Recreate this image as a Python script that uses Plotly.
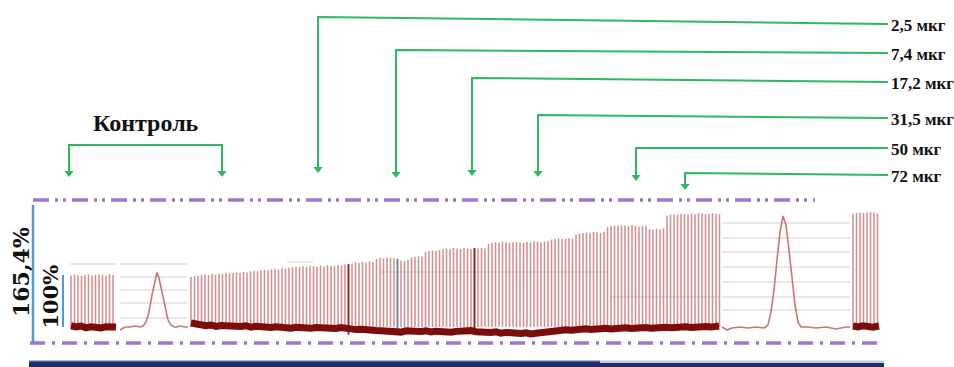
import plotly.graph_objects as go

# ---------------------------------------------------------------------------
# Isometric force recording: twitch amplitudes in % of control
# ---------------------------------------------------------------------------
stim_period = 3.5            # s between stimuli
control_start = 71.0         # s, first control twitch
main_start = 191.0           # s, first twitch of the dose series
wash_start = 853.0           # s, first twitch after the second slow contraction

control_amp = [99, 101, 100, 98, 100, 101, 99, 100, 101, 100, 99, 102, 100]

main_amp = [
    96, 98, 99,
    100, 101, 100, 102, 101, 103, 102, 104, 103, 104, 105, 104, 106, 105,
    107, 108, 107, 109, 110, 109, 111, 112, 111, 113, 112, 114,
    115, 116, 115, 117, 116, 118, 117, 116, 118, 117, 119, 118, 117, 119, 118, 120,
    121, 122, 124, 123, 125, 124, 126, 125,
    131, 133, 132, 134, 133, 132,
    131, 128, 127, 129,
    134, 135, 136, 135,
    144, 146, 147, 146, 148,
    150, 151, 150, 152, 151, 150, 152, 151, 150,
    152, 151, 152, 151,
    160, 162, 163, 162, 164, 163, 162, 163, 164, 163, 162, 164, 163, 165, 164, 163, 164, 165,
    168, 169, 170, 169, 170, 171, 170,
    178, 180, 181, 182, 181, 183, 182, 181, 183,
    192, 194, 195, 194, 196, 195, 194, 196, 195, 193, 194, 195,
    188, 187, 189, 188, 190,
    214, 216, 217, 216, 218, 217, 216, 218, 217, 219, 218, 217, 218, 219, 218, 217,
]

wash_amp = [218, 219, 220, 219, 220, 221, 220, 219]

# marked twitches of the dose series (index, colour)
event_idx = [45, 59, 81]
event_color = ["rgb(150,30,30)", "rgb(105,140,150)", "rgb(150,30,30)"]

# resting tension (baseline) in % of control amplitude
ctrl_base_t = [71, 76, 81, 86, 91, 96, 101, 106, 111, 116]
ctrl_base_v = [2.4, 0.2, 1.9, -1.6, 0.6, -0.8, -1.9, 0.4, 1.5, -0.2]

main_base_t = list(range(191, 717, 5)) + [719]
main_base_v = [
    7.7, 5.8, 4.5, 2.5, 3.8, 1.2, 3.0, 1.9, 0.5, 2.6,
    1.0, 2.4, -0.5, 1.5, 0.0, 1.8, -0.8, 0.6, -1.2, 0.4,
    -2.4, -0.6, -1.9, -0.3, -2.6, -1.0, -2.2, -0.5, -1.4, -2.8,
    -1.2, -3.0, -3.8, -5.0, -4.4, -6.2, -5.2, -6.6, -7.0, -8.2,
    -6.8, -8.6, -9.8, -7.4, -8.4, -6.9, -8.8, -7.5, -9.6, -8.0,
    -9.2, -7.6, -9.9, -8.4, -7.2, -8.9, -7.0, -9.1, -10.2, -8.8,
    -10.6, -9.4, -11.8, -10.4, -12.2, -11.0, -12.5, -11.2, -13.5, -12.0,
    -10.8, -8.6, -7.4, -5.9, -6.8, -5.2, -6.4, -4.6, -5.6, -3.6,
    -4.8, -3.2, -4.2, -2.4, -3.6, -1.8, -3.0, -1.6, -2.8, -1.2,
    -2.6, -1.0, -2.2, -0.8, -1.9, -0.4, -1.6, 0.2, -1.0, 0.4,
    -0.8, 0.6, -0.6, 0.8, -0.2, 1.2,
    1.9,
]

wash_base_t = [853, 858, 863, 868, 873, 879]
wash_base_v = [1.9, 0.0, 2.2, 1.0, -0.4, 1.9]

# slow contractures between the twitch blocks
slow1_t = [120, 125, 130, 135, 140, 143, 146, 149, 152, 155, 157, 159, 162, 165, 168,
           171, 174, 177, 180, 185, 188]
slow1_v = [-5.8, 0.0, 0.0, 1.9, 0.0, 1.9, 9.6, 28.8, 61.5, 90.4, 105.0, 94.2, 67.3, 36.5,
           13.5, 3.8, 0.0, 0.0, 1.9, 0.0, 0.0]

slow2_t = [722, 727, 732, 740, 748, 756, 764, 768, 771, 774, 777, 780, 783, 786, 789,
           792, 795, 798, 801, 808, 816, 826, 836, 846, 850]
slow2_v = [0.0, -5.8, -1.9, 0.0, -1.9, 0.0, -1.9, 3.8, 28.8, 71.2, 128.8, 182.7, 213.5,
           196.2, 148.1, 90.4, 42.3, 9.6, 0.0, 0.0, -1.9, 0.0, -3.8, 0.0, 0.0]

# drug additions
dose_labels = ["2,5 мкг", "7,4 мкг", "17,2 мкг", "31,5 мкг", "50 мкг", "72 мкг"]
dose_times = [318, 396, 472, 538, 636, 685]
control_span = [69, 222]
control_label = "Контроль"
scale_labels = ["165,4%", "100%"]
scale_values = [165.4, 100.0]

# ---------------------------------------------------------------------------
# Styling / layout rows (pixel rows of the overlay axis)
# ---------------------------------------------------------------------------
W, H = 954, 367
TWITCH = "rgba(200,112,112,0.8)"
BASE = "rgb(125,12,12)"
SLOW = "rgb(200,118,118)"
GREEN = "rgb(46,184,96)"
PURPLE = "rgb(158,118,206)"
SCALE_BLUE = "rgb(82,152,220)"

dose_row_left = [17, 50, 78, 115, 148, 173]
dose_row_right = [24, 53, 82, 118, 148, 175]
dose_tip = [173, 178, 176, 177, 181, 190]
dose_label_x = 888
control_row = 145
control_tip = 177

fig = go.Figure()


def twitch_path(start, amps, base=0.0):
    xs, ys = [], []
    for i, a in enumerate(amps):
        t = start + i * stim_period
        xs += [t, t, None]
        ys += [base, a, None]
    return xs, ys


# faint grid of the recorder (drawn underneath)
grid_rows = [
    (70, 116, 264), (120, 187, 264), (120, 187, 277), (120, 187, 290), (120, 187, 303),
    (120, 187, 318), (722, 850, 223), (722, 850, 238), (722, 850, 252), (722, 850, 267),
    (722, 850, 282), (722, 850, 297), (722, 850, 310), (380, 607, 272), (610, 720, 297),
    (287, 313, 262),
]
for x0, x1, yy in grid_rows:
    fig.add_shape(type="line", xref="x", yref="y2", x0=x0, x1=x1, y0=yy, y1=yy,
                  line=dict(color="rgba(190,190,190,0.45)", width=1.4), layer="below")

# twitch blocks
for start, amps in [(control_start, control_amp), (main_start, main_amp), (wash_start, wash_amp)]:
    xs, ys = twitch_path(start, amps)
    fig.add_trace(go.Scatter(x=xs, y=ys, mode="lines", line=dict(color=TWITCH, width=1.5),
                             hoverinfo="skip", showlegend=False))

# marked twitches
for idx, col in zip(event_idx, event_color):
    t = main_start + idx * stim_period
    fig.add_trace(go.Scatter(x=[t, t], y=[-15, main_amp[idx]], mode="lines",
                             line=dict(color=col, width=1.8), hoverinfo="skip", showlegend=False))

# slow contractures
for ts, vs in [(slow1_t, slow1_v), (slow2_t, slow2_v)]:
    fig.add_trace(go.Scatter(x=ts, y=vs, mode="lines", line=dict(color=SLOW, width=1.6),
                             hoverinfo="skip", showlegend=False))

# resting tension band
for ts, vs in [(ctrl_base_t, ctrl_base_v), (main_base_t, main_base_v), (wash_base_t, wash_base_v)]:
    fig.add_trace(go.Scatter(x=ts, y=vs, mode="lines", line=dict(color=BASE, width=7),
                             hoverinfo="skip", showlegend=False))

# scale bars
fig.add_shape(type="line", xref="x", yref="y2", x0=33, x1=33, y0=205, y1=343,
              line=dict(color=SCALE_BLUE, width=2.5))
fig.add_shape(type="line", xref="x", yref="y", x0=63, x1=63, y0=0, y1=scale_values[1],
              line=dict(color=SCALE_BLUE, width=2))
fig.add_annotation(x=21, y=272, xref="x", yref="y2", text="<b>" + scale_labels[0] + "</b>",
                   textangle=-90, showarrow=False,
                   font=dict(family="DejaVu Serif", size=22, color="#111"))
fig.add_annotation(x=49.5, y=297, xref="x", yref="y2", text="<b>" + scale_labels[1] + "</b>",
                   textangle=-90, showarrow=False,
                   font=dict(family="DejaVu Serif", size=21, color="#111"))

# dash-dot frame lines
fig.add_shape(type="line", xref="x", yref="y2", x0=33, x1=815, y0=200, y1=200,
              line=dict(color=PURPLE, width=3.5, dash="16px,6px,3px,5px,3px,6px"))
fig.add_shape(type="line", xref="x", yref="y2", x0=30, x1=883, y0=343, y1=343,
              line=dict(color=PURPLE, width=3.5, dash="15px,7px,3px,7px"))

# bottom status bar
fig.add_shape(type="rect", xref="x", yref="y2", x0=29, x1=884, y0=361, y1=368,
              fillcolor="rgb(28,48,110)", line=dict(width=0))
fig.add_shape(type="rect", xref="x", yref="y2", x0=600, x1=884, y0=360.5, y1=363,
              fillcolor="rgb(196,204,220)", line=dict(width=0))
fig.add_shape(type="rect", xref="x", yref="y2", x0=29, x1=600, y0=360.5, y1=361.8,
              fillcolor="rgb(95,115,165)", line=dict(width=0))

# control bracket
cx = [control_span[0], control_span[0], control_span[1], control_span[1]]
cy = [control_tip - 5, control_row, control_row, control_tip - 5]
fig.add_trace(go.Scatter(x=cx, y=cy, yaxis="y2", mode="lines",
                         line=dict(color=GREEN, width=2), hoverinfo="skip", showlegend=False))
fig.add_trace(go.Scatter(x=control_span, y=[control_tip - 4] * 2, yaxis="y2", mode="markers",
                         marker=dict(symbol="triangle-down", size=8, color=GREEN),
                         hoverinfo="skip", showlegend=False))
fig.add_annotation(x=(control_span[0] + control_span[1]) / 2, y=123, xref="x", yref="y2",
                   text="<b>" + control_label + "</b>", showarrow=False,
                   font=dict(family="Liberation Serif", size=24, color="#111"))

# dose arrows
ax, ay = [], []
for t, yl, yr, tip in zip(dose_times, dose_row_left, dose_row_right, dose_tip):
    ax += [t, t, dose_label_x, None]
    ay += [tip - 5, yl, yr, None]
fig.add_trace(go.Scatter(x=ax, y=ay, yaxis="y2", mode="lines",
                         line=dict(color=GREEN, width=2), hoverinfo="skip", showlegend=False))
fig.add_trace(go.Scatter(x=dose_times, y=[tp - 4 for tp in dose_tip], yaxis="y2", mode="markers",
                         marker=dict(symbol="triangle-down", size=8, color=GREEN),
                         hoverinfo="skip", showlegend=False))
for lab, yr in zip(dose_labels, dose_row_right):
    fig.add_annotation(x=dose_label_x + 1, y=yr + 1, xref="x", yref="y2", xanchor="left",
                       text="<b>" + lab + "</b>", showarrow=False,
                       font=dict(family="Liberation Serif", size=17, color="#111"))

px_per_pct = 0.52
zero_row = 327
fig.update_layout(
    width=W, height=H,
    margin=dict(l=0, r=0, t=0, b=0),
    paper_bgcolor="white", plot_bgcolor="white",
    showlegend=False,
    xaxis=dict(range=[0, W], visible=False, fixedrange=True),
    yaxis=dict(range=[(zero_row - H) / px_per_pct, zero_row / px_per_pct],
               visible=False, fixedrange=True),
    yaxis2=dict(range=[H, 0], overlaying="y", visible=False, fixedrange=True),
)

fig.write_html("out.html")
